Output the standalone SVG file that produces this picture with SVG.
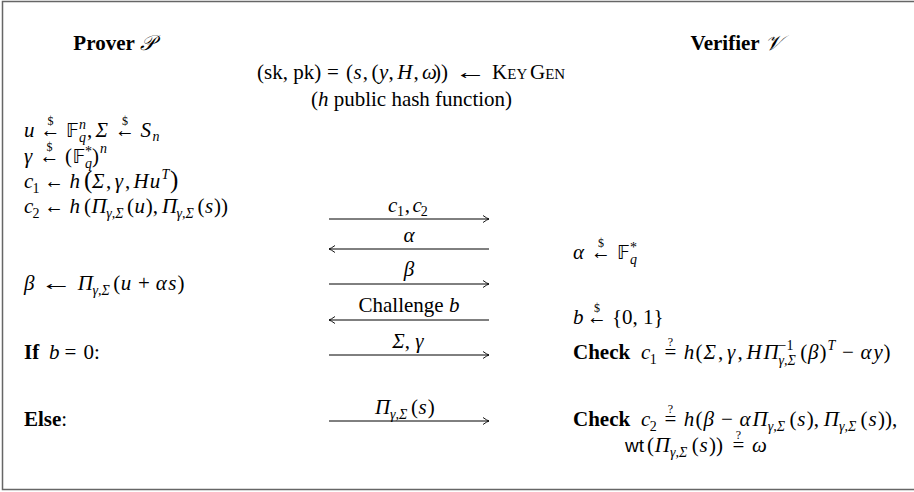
<svg xmlns="http://www.w3.org/2000/svg" width="914" height="492" viewBox="0 0 914 492">
<style>
text{font-family:"Liberation Serif","DejaVu Serif",serif;font-size:21px;fill:#000}
.i{font-style:italic}
.b{font-weight:bold}
.sm{font-size:14px}
.xs{font-size:12px}
.big{font-size:25px}
.bb{font-family:"DejaVu Sans","DejaVu Serif","Noto Sans",sans-serif;font-size:19px}
.scr{font-family:"DejaVu Serif","DejaVu Sans","Noto Sans",serif;font-style:italic;font-weight:normal}
.sf{font-family:"Liberation Sans","DejaVu Sans",sans-serif;font-size:19px}
.m{text-anchor:middle}
.msg{stroke:#000;stroke-width:1;fill:none}
</style>
<defs>
<marker id="ah" viewBox="-8 -5 10 10" refX="0" refY="0" markerWidth="10" markerHeight="10" markerUnits="userSpaceOnUse" orient="auto">
<path d="M-6,-3.5 Q-2,-0.6 0,0 Q-2,0.6 -6,3.5" fill="none" stroke="#000" stroke-width="0.9"/>
</marker>
</defs>
<rect x="2.5" y="1.5" width="930" height="488" fill="#fff" stroke="#666" stroke-width="1.5"/>

<g id="header">
<text x="114" y="50" class="m"><tspan class="b">Prover </tspan><tspan class="scr">𝒫</tspan></text>
<text x="736" y="50" class="m"><tspan class="b">Verifier </tspan><tspan class="scr">𝒱</tspan></text>
<text y="79"><tspan x="257">(sk, pk)</tspan><tspan x="327">=</tspan><tspan x="346">(</tspan><tspan x="353.6" class="i">s</tspan><tspan x="362.7">,</tspan><tspan x="371.4">(</tspan><tspan x="379" class="i">y</tspan><tspan x="388.6">,</tspan><tspan x="397.2" class="i">H</tspan><tspan x="413.4">,</tspan><tspan x="422" class="i">ω</tspan><tspan x="434.1">))</tspan><tspan x="492.1">K</tspan><tspan x="507.3" font-size="15">EY</tspan><tspan x="530">G</tspan><tspan x="545.2" font-size="15">EN</tspan></text>
<text x="454.7" y="79" textLength="32" lengthAdjust="spacingAndGlyphs">←</text>
<text x="411.5" y="106" class="m">(<tspan class="i">h</tspan> public hash function)</text>
</g>

<g id="prover">
<g id="p-row1">
<text y="137"><tspan x="24" class="i">u</tspan><tspan x="66" class="bb">𝔽</tspan><tspan x="87">,</tspan><tspan x="95.5" class="i">Σ</tspan><tspan x="140.4" class="i">S</tspan></text>
<text class="sm i"><tspan x="79" y="129">n</tspan><tspan x="79" y="142">q</tspan><tspan x="152.5" y="141">n</tspan></text>
<text x="40.6" y="137" textLength="20" lengthAdjust="spacingAndGlyphs">←</text>
<text x="115" y="137" textLength="20" lengthAdjust="spacingAndGlyphs">←</text>
<text class="xs m"><tspan x="50.6" y="125">$</tspan><tspan x="125" y="125">$</tspan></text>
</g>
<g id="p-row2">
<text y="163"><tspan x="24" class="i">γ</tspan><tspan x="65">(</tspan><tspan x="72.6" class="bb">𝔽</tspan><tspan x="92">)</tspan></text>
<text class="sm"><tspan x="85" y="156">*</tspan><tspan x="85" y="168" class="i">q</tspan><tspan x="100" y="153" class="i">n</tspan></text>
<text x="39.5" y="163" textLength="20" lengthAdjust="spacingAndGlyphs">←</text>
<text x="49.5" y="151" class="xs m">$</text>
</g>
<g id="p-row3">
<text y="188"><tspan x="24" class="i">c</tspan><tspan x="69.5" class="i">h</tspan><tspan x="84" class="big">(</tspan><tspan x="92" class="i">Σ</tspan><tspan x="106.1">,</tspan><tspan x="114.8" class="i">γ</tspan><tspan x="124.9">,</tspan><tspan x="133.6" class="i">H</tspan><tspan x="149.8" class="i">u</tspan><tspan x="170" class="big">)</tspan></text>
<text class="sm"><tspan x="32.4" y="192.5">1</tspan><tspan x="161.5" y="179" class="i">T</tspan></text>
<text x="44.6" y="188" textLength="19.5" lengthAdjust="spacingAndGlyphs">←</text>
</g>
<g id="p-row4">
<text y="213"><tspan x="24" class="i">c</tspan><tspan x="69.5" class="i">h</tspan><tspan x="84">(</tspan><tspan x="91.6" class="i">Π</tspan><tspan x="127">(</tspan><tspan x="134.6" class="i">u</tspan><tspan x="145.8">),</tspan><tspan x="162" class="i">Π</tspan><tspan x="197.4">(</tspan><tspan x="205" class="i">s</tspan><tspan x="214.1">))</tspan></text>
<text class="sm"><tspan x="32.4" y="217.5">2</tspan><tspan x="106.2" y="218" class="i">γ,Σ</tspan><tspan x="176.6" y="218" class="i">γ,Σ</tspan></text>
<text x="44.6" y="213" textLength="19.5" lengthAdjust="spacingAndGlyphs">←</text>
</g>
<g id="p-row5">
<text y="290"><tspan x="24" class="i">β</tspan><tspan x="77.8" class="i">Π</tspan><tspan x="113.2">(</tspan><tspan x="120.8" class="i">u</tspan><tspan x="138">+</tspan><tspan x="155.8" class="i">α</tspan><tspan x="168.3" class="i">s</tspan><tspan x="177.4">)</tspan></text>
<text x="92.4" y="295" class="sm i">γ,Σ</text>
<text x="40.4" y="290" textLength="32" lengthAdjust="spacingAndGlyphs">←</text>
</g>
<g id="p-if">
<text y="359"><tspan x="24" class="b">If</tspan><tspan x="49" class="i">b</tspan><tspan x="64.5">=</tspan><tspan x="83.4">0:</tspan></text>
</g>
<g id="p-else">
<text x="24" y="426"><tspan class="b">Else</tspan>:</text>
</g>
</g>

<g id="verifier">
<g id="v-alpha">
<text y="259"><tspan x="573" class="i">α</tspan><tspan x="617" class="bb">𝔽</tspan></text>
<text class="sm"><tspan x="630" y="252">*</tspan><tspan x="630" y="264" class="i">q</tspan></text>
<text x="591" y="259" textLength="20" lengthAdjust="spacingAndGlyphs">←</text>
<text x="601" y="247" class="xs m">$</text>
</g>
<g id="v-b">
<text y="324"><tspan x="573" class="i">b</tspan><tspan x="612">{0, 1}</tspan></text>
<text x="587" y="324" textLength="20" lengthAdjust="spacingAndGlyphs">←</text>
<text x="597" y="312" class="xs m">$</text>
</g>
<g id="v-check1">
<text y="359"><tspan x="573" class="b">Check</tspan><tspan x="641" class="i">c</tspan><tspan x="683.8" class="i">h</tspan><tspan x="695.5">(</tspan><tspan x="703.4" class="i">Σ</tspan><tspan x="718.1">,</tspan><tspan x="727.1" class="i">γ</tspan><tspan x="737.6">,</tspan><tspan x="746.6" class="i">H</tspan><tspan x="763.4" class="i">Π</tspan><tspan x="800.2">(</tspan><tspan x="808.1" class="i">β</tspan><tspan x="819.6">)</tspan><tspan x="842">−</tspan><tspan x="860.5" class="i">α</tspan><tspan x="873.5" class="i">y</tspan><tspan x="883.5">)</tspan></text>
<text x="670.3" y="359" class="m">=</text>
<text x="670.3" y="346" class="xs m">?</text>
<text class="sm"><tspan x="649.7" y="363.5">1</tspan><tspan x="778.6" y="350">−1</tspan><tspan x="778.6" y="365" class="i">γ,Σ</tspan><tspan x="827.5" y="350" class="i">T</tspan></text>
</g>
<g id="v-check2">
<text y="426"><tspan x="573" class="b">Check</tspan><tspan x="641" class="i">c</tspan><tspan x="683.8" class="i">h</tspan><tspan x="695.5">(</tspan><tspan x="703.4" class="i">β</tspan><tspan x="720.9">−</tspan><tspan x="739.6" class="i">α</tspan><tspan x="752.6" class="i">Π</tspan><tspan x="789.4">(</tspan><tspan x="797.3" class="i">s</tspan><tspan x="806.8">),</tspan><tspan x="823.7" class="i">Π</tspan><tspan x="860.5">(</tspan><tspan x="868.4" class="i">s</tspan><tspan x="878">)),</tspan></text>
<text x="670.3" y="426" class="m">=</text>
<text x="670.3" y="413" class="xs m">?</text>
<text class="sm"><tspan x="649.7" y="430.5">2</tspan><tspan x="767.8" y="431" class="i">γ,Σ</tspan><tspan x="838.9" y="431" class="i">γ,Σ</tspan></text>
<text y="452"><tspan x="625" class="sf">wt</tspan><tspan x="646.9">(</tspan><tspan x="654.8" class="i">Π</tspan><tspan x="691.7">(</tspan><tspan x="699.6" class="i">s</tspan><tspan x="709">))</tspan><tspan x="751.9" class="i">ω</tspan></text>
<text x="670" y="457" class="sm i">γ,Σ</text>
<text x="738.4" y="452" class="m">=</text>
<text x="738.4" y="439" class="xs m">?</text>
</g>
</g>

<g id="connectors">
<line class="msg" x1="329" y1="219" x2="489" y2="219" marker-end="url(#ah)"/>
<line class="msg" x1="489" y1="249" x2="329" y2="249" marker-end="url(#ah)"/>
<line class="msg" x1="329" y1="284" x2="489" y2="284" marker-end="url(#ah)"/>
<line class="msg" x1="489" y1="320" x2="329" y2="320" marker-end="url(#ah)"/>
<line class="msg" x1="329" y1="355" x2="489" y2="355" marker-end="url(#ah)"/>
<line class="msg" x1="329" y1="421" x2="489" y2="421" marker-end="url(#ah)"/>
</g>
<g id="msg-labels">
<text y="212"><tspan x="388" class="i">c</tspan><tspan x="404.7">,</tspan><tspan x="412.4" class="i">c</tspan></text>
<text class="sm"><tspan x="396.9" y="216">1</tspan><tspan x="420.8" y="216">2</tspan></text>
<text x="409" y="242" class="m i">α</text>
<text x="409" y="276" class="m i">β</text>
<text x="409" y="312" class="m">Challenge <tspan class="i">b</tspan></text>
<text x="408" y="348" class="m"><tspan class="i">Σ</tspan>, <tspan class="i">γ</tspan></text>
<text y="414"><tspan x="375" class="i">Π</tspan><tspan x="411">(</tspan><tspan x="418.6" class="i">s</tspan><tspan x="427.7">)</tspan></text>
<text x="390" y="419" class="sm i">γ,Σ</text>
</g>
</svg>
